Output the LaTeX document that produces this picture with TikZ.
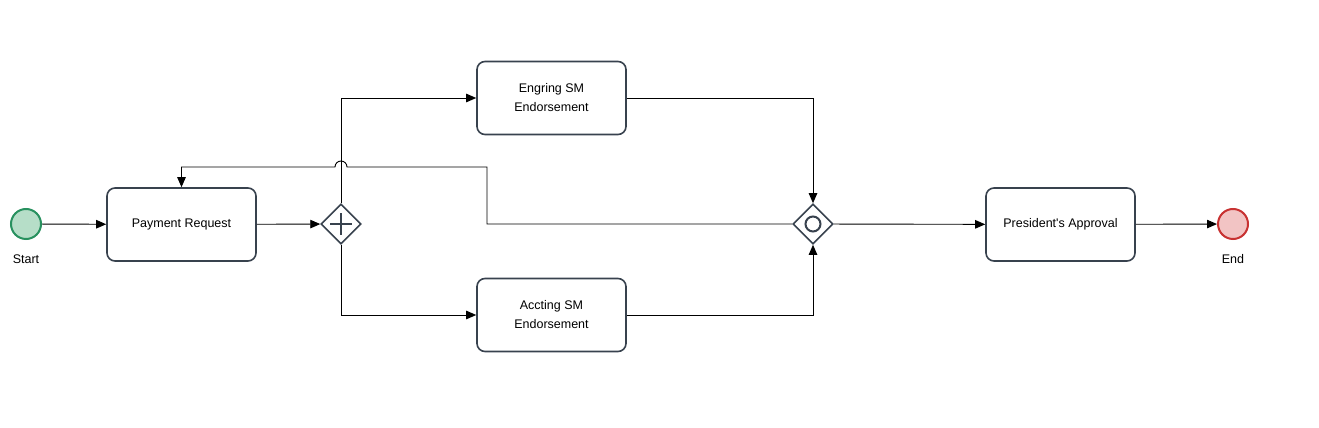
\documentclass[tikz,border=0pt]{standalone}
\usepackage{fontspec}
\setmainfont{Liberation Sans}
\newfontfamily\bpmnfont{Liberation Sans}
\usetikzlibrary{arrows.meta,positioning,calc,shapes.geometric}
\definecolor{taskline}{RGB}{56,66,78}
\definecolor{startfill}{RGB}{182,222,200}
\definecolor{startline}{RGB}{40,145,95}
\definecolor{endfill}{RGB}{242,196,196}
\definecolor{endline}{RGB}{200,50,50}

\begin{document}
\begin{tikzpicture}[
  x=1pt, y=1pt,
  task/.style={draw=taskline, line width=1.6pt, rounded corners=8pt,
               minimum width=149pt, minimum height=73pt, align=center,
               font=\bpmnfont\fontsize{12.5}{19}\selectfont, fill=white},
  gate/.style={diamond, draw=taskline, line width=1.6pt, fill=white,
               minimum width=40pt, minimum height=40pt, inner sep=0pt},
  event/.style={circle, line width=2pt, minimum size=30pt, inner sep=0pt},
  lbl/.style={font=\bpmnfont\fontsize{12.5}{14}\selectfont},
  flow/.style={line width=0.9pt, -{Triangle[length=10pt,width=8.5pt]}}
]
\useasboundingbox (0,0) rectangle (1319,428);

% events and tasks
\node[event, draw=startline, fill=startfill] (start) at (26,204) {};
\node[lbl] (startlbl) at (26,169) {Start};
\node[task] (payreq) at (181.5,203.5) {Payment Request};
\node[gate] (split) at (341,204) {};
\node[task] (engr) at (551.5,330) {Engring SM\\Endorsement};
\node[task] (acct) at (551.5,113) {Accting SM\\Endorsement};
\node[gate] (merge) at (813,204) {};
\node[task] (pres) at (1060.5,203.5) {President's Approval};
\node[event, draw=endline, fill=endfill] (finish) at (1233,204) {};
\node[lbl] (finishlbl) at (1233,169) {End};

% gateway markers
\draw[line width=1.8pt, taskline] ($(split)+(-11,0)$) -- ($(split)+(11,0)$)
  ($(split)+(0,-11)$) -- ($(split)+(0,11)$);
\draw[line width=2pt, taskline] (merge) circle (7.5);

% sequence flows
\draw[flow] (start) -- (payreq);
\draw[flow] (payreq) -- (split);
\draw[flow] (split.north) |- (engr.west);
\draw[flow] (split.south) |- (acct.west);
\draw[flow] (engr.east) -| (merge.north);
\draw[flow] (acct.east) -| (merge.south);
\draw[flow] (merge) -- (pres);
\draw[flow] (pres) -- (finish);

% loop back with a hop over the split line
\coordinate (backA) at (487,204);
\coordinate (backB) at (487,261);
\coordinate (hop) at (347,261);
\draw[flow] (merge.west) -- (backA) -- (backB) -- (hop)
  arc[start angle=0, end angle=180, radius=6] -- (payreq.north |- backB)
  -- (payreq.north);
\end{tikzpicture}
\end{document}
